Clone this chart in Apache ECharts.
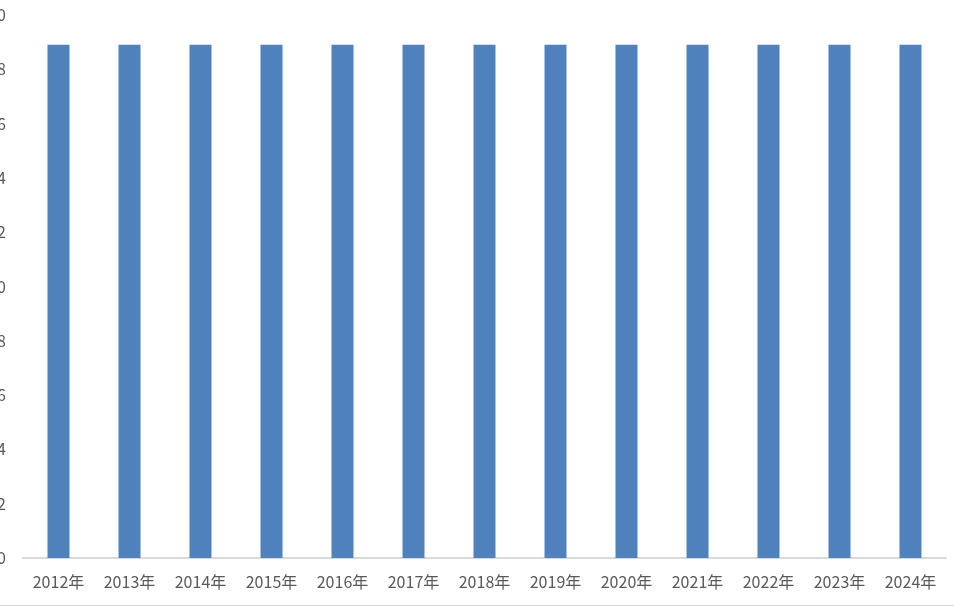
<!DOCTYPE html>
<html>
<head>
<meta charset="utf-8">
<script src="https://cdn.jsdelivr.net/npm/echarts@6/dist/echarts.min.js"></script>
<style>
  html, body { margin: 0; padding: 0; background: #fff; }
  #chart { width: 954px; height: 605px; border-bottom: 1px solid #d9d9d9; }
</style>
</head>
<body>
<div id="chart"></div>
<script>
// 年份与数值
var years = ['2012年', '2013年', '2014年', '2015年', '2016年', '2017年', '2018年',
             '2019年', '2020年', '2021年', '2022年', '2023年', '2024年'];
var values = [18.9, 18.9, 18.9, 18.9, 18.9, 18.9, 18.9, 18.9, 18.9, 18.9, 18.9, 18.9, 18.9];

var myChart = echarts.init(document.getElementById('chart'));
var option = {
  animation: false,
  grid: { left: 23, right: 8, top: 15, bottom: 47, containLabel: false, outerBoundsMode: 'none' },
  xAxis: {
    type: 'category',
    data: years,
    axisLine: { lineStyle: { color: '#d9d9d9', width: 2 } },
    axisTick: { show: false },
    axisLabel: {
      color: '#595959',
      fontSize: 16,
      fontFamily: 'Noto Sans CJK SC',
      margin: 16
    }
  },
  yAxis: {
    type: 'value',
    min: 0,
    max: 20,
    interval: 2,
    axisLine: { show: false },
    axisTick: { show: false },
    splitLine: { show: false },
    axisLabel: {
      color: '#595959',
      fontSize: 16,
      fontFamily: 'Noto Sans CJK SC',
      margin: 17
    }
  },
  series: [{
    type: 'bar',
    data: values,
    barWidth: 22,
    itemStyle: { color: '#4f81bd' }
  }]
};
myChart.setOption(option);
</script>
</body>
</html>
